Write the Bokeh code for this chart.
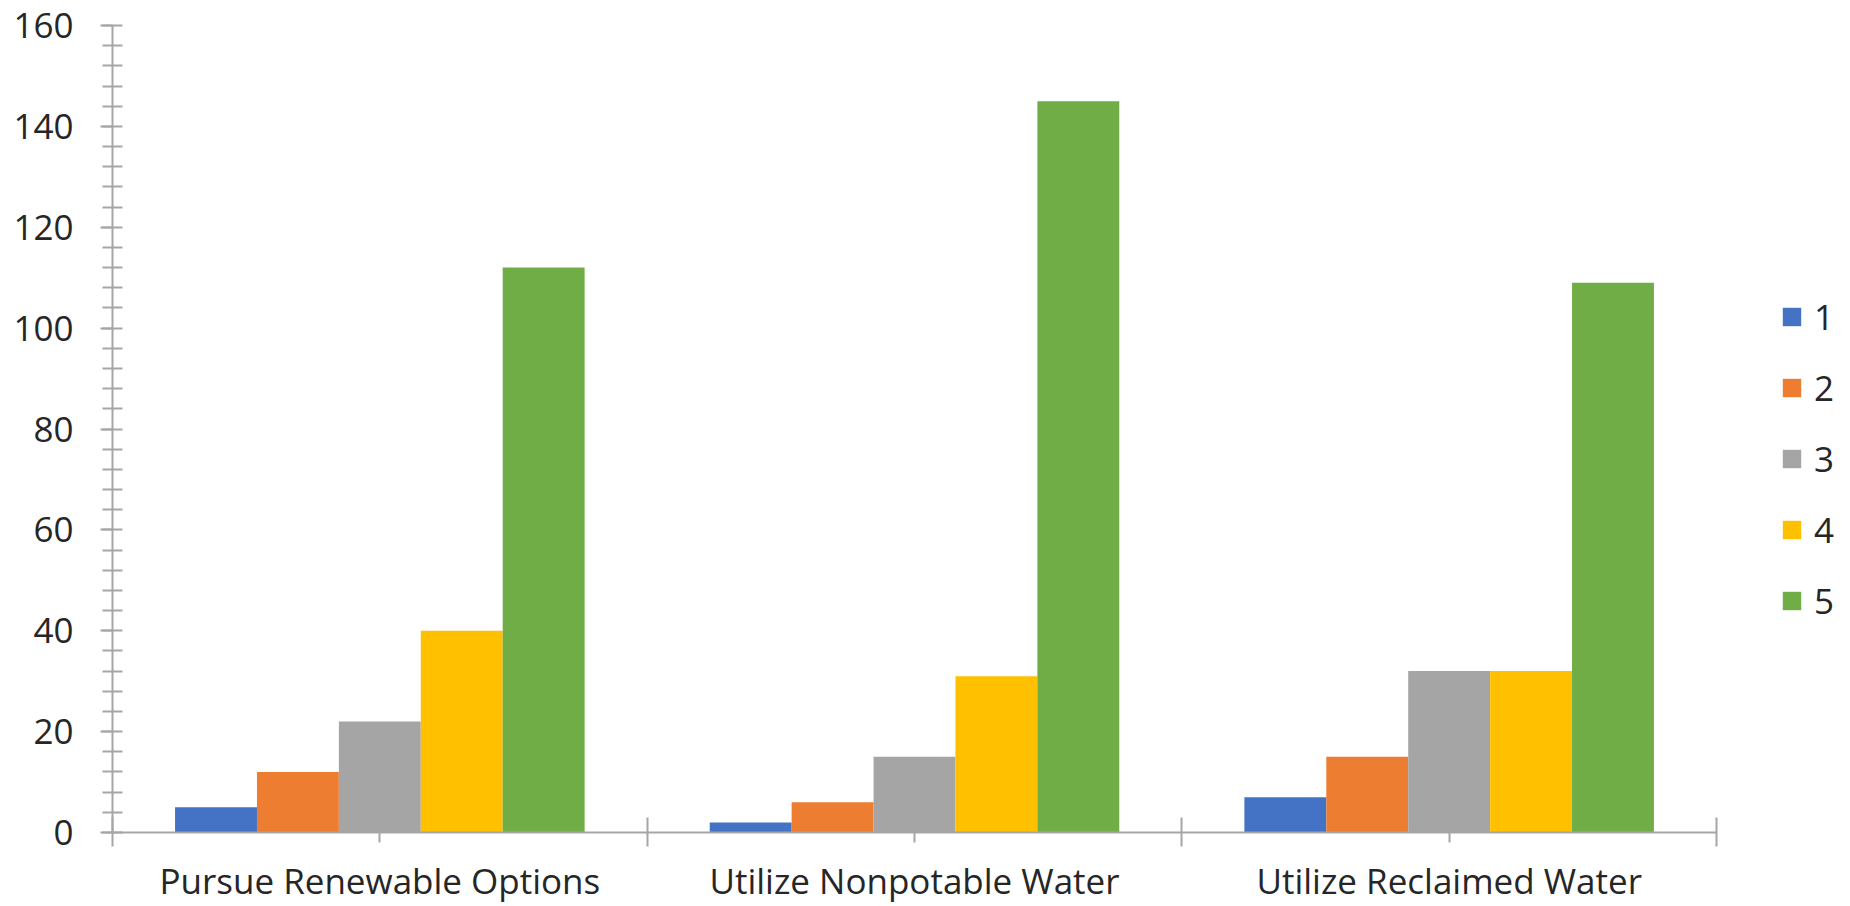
import numpy as np
from bokeh.plotting import figure
from bokeh.models import (Range1d, FixedTicker, SingleIntervalTicker, Legend,
                          LegendItem, ColumnDataSource)
from bokeh.transform import dodge
from bokeh.embed import file_html
from bokeh.resources import INLINE

categories = ["Pursue Renewable Options", "Utilize Nonpotable Water", "Utilize Reclaimed Water"]
series_names = ["1", "2", "3", "4", "5"]
s1 = [5, 2, 7]
s2 = [12, 6, 15]
s3 = [22, 15, 32]
s4 = [40, 31, 32]
s5 = [112, 145, 109]
colors = ["#4472C4", "#ED7D31", "#A5A5A5", "#FFC000", "#70AD47"]
y_max = 160
y_step = 20

FONT = "Open Sans"
FS = "35px"
TEXT = "#262626"
GRID = "#a6a6a6"

n_cat = len(categories)
centers = [float(v) for v in np.arange(n_cat) + 0.5]
boundaries = [float(v) for v in np.arange(n_cat + 1)]
data = dict(x=centers, s1=s1, s2=s2, s3=s3, s4=s4, s5=s5)
source = ColumnDataSource(data)

DATA_W = 1604          # pixel width of the category area
FW, FH = 1725, 807     # frame includes room for the legend on the right
x_end = n_cat * FW / DATA_W

p = figure(frame_width=FW, frame_height=FH,
           x_range=Range1d(0, x_end), y_range=Range1d(0, y_max),
           output_backend="svg", toolbar_location=None,
           min_border_left=112, min_border_top=25,
           min_border_right=5, min_border_bottom=60,
           outline_line_color=None, background_fill_color="white",
           border_fill_color="white")

group_frac = 0.766
bar_w = group_frac / len(series_names)
keys = ["s1", "s2", "s3", "s4", "s5"]
renderers = []
for i, (k, c) in enumerate(zip(keys, colors)):
    off = (i - (len(keys) - 1) / 2) * bar_w
    r = p.vbar(x=dodge("x", off, range=p.x_range), top=k, width=bar_w,
               bottom=0, source=source, fill_color=c, line_color=None)
    renderers.append(r)

# grid
p.xgrid.visible = False
p.ygrid.grid_line_color = GRID
p.ygrid.grid_line_width = 2
p.ygrid.bounds = (0, n_cat)
p.ygrid.ticker = SingleIntervalTicker(interval=y_step, num_minor_ticks=5)

# y axis
ya = p.yaxis[0]
ya.ticker = SingleIntervalTicker(interval=y_step, num_minor_ticks=5)
ya.axis_line_color = GRID
ya.axis_line_width = 2
ya.major_tick_line_color = GRID
ya.major_tick_line_width = 2
ya.major_tick_in = 0
ya.major_tick_out = 12
ya.minor_tick_line_color = GRID
ya.minor_tick_line_width = 2
ya.minor_tick_in = 10
ya.minor_tick_out = 10
ya.major_label_text_font = FONT
ya.major_label_text_font_size = FS
ya.major_label_text_color = TEXT
ya.major_label_standoff = 27

# x axis
xa = p.xaxis[0]
xa.bounds = (0, n_cat)
xa.ticker = FixedTicker(ticks=centers, minor_ticks=boundaries)
xa.major_label_overrides = {c: lab for c, lab in zip(centers, categories)}
xa.axis_line_color = GRID
xa.axis_line_width = 2
xa.major_tick_line_color = GRID
xa.major_tick_line_width = 2
xa.major_tick_in = 10
xa.major_tick_out = 10
xa.minor_tick_line_color = GRID
xa.minor_tick_line_width = 2
xa.minor_tick_in = 15
xa.minor_tick_out = 14
xa.major_label_text_font = FONT
xa.major_label_text_font_size = FS
xa.major_label_text_color = TEXT
xa.major_label_standoff = 10

legend = Legend(items=[LegendItem(label=n, renderers=[r]) for n, r in zip(series_names, renderers)],
                location=(1668, 208), orientation="vertical",
                glyph_width=23, glyph_height=23, label_standoff=11,
                label_text_font=FONT, label_text_font_size=FS,
                label_text_color=TEXT, spacing=24, padding=0, margin=0,
                border_line_color=None, background_fill_alpha=0)
p.add_layout(legend, "center")

open("out.html", "w").write(file_html(p, INLINE))
